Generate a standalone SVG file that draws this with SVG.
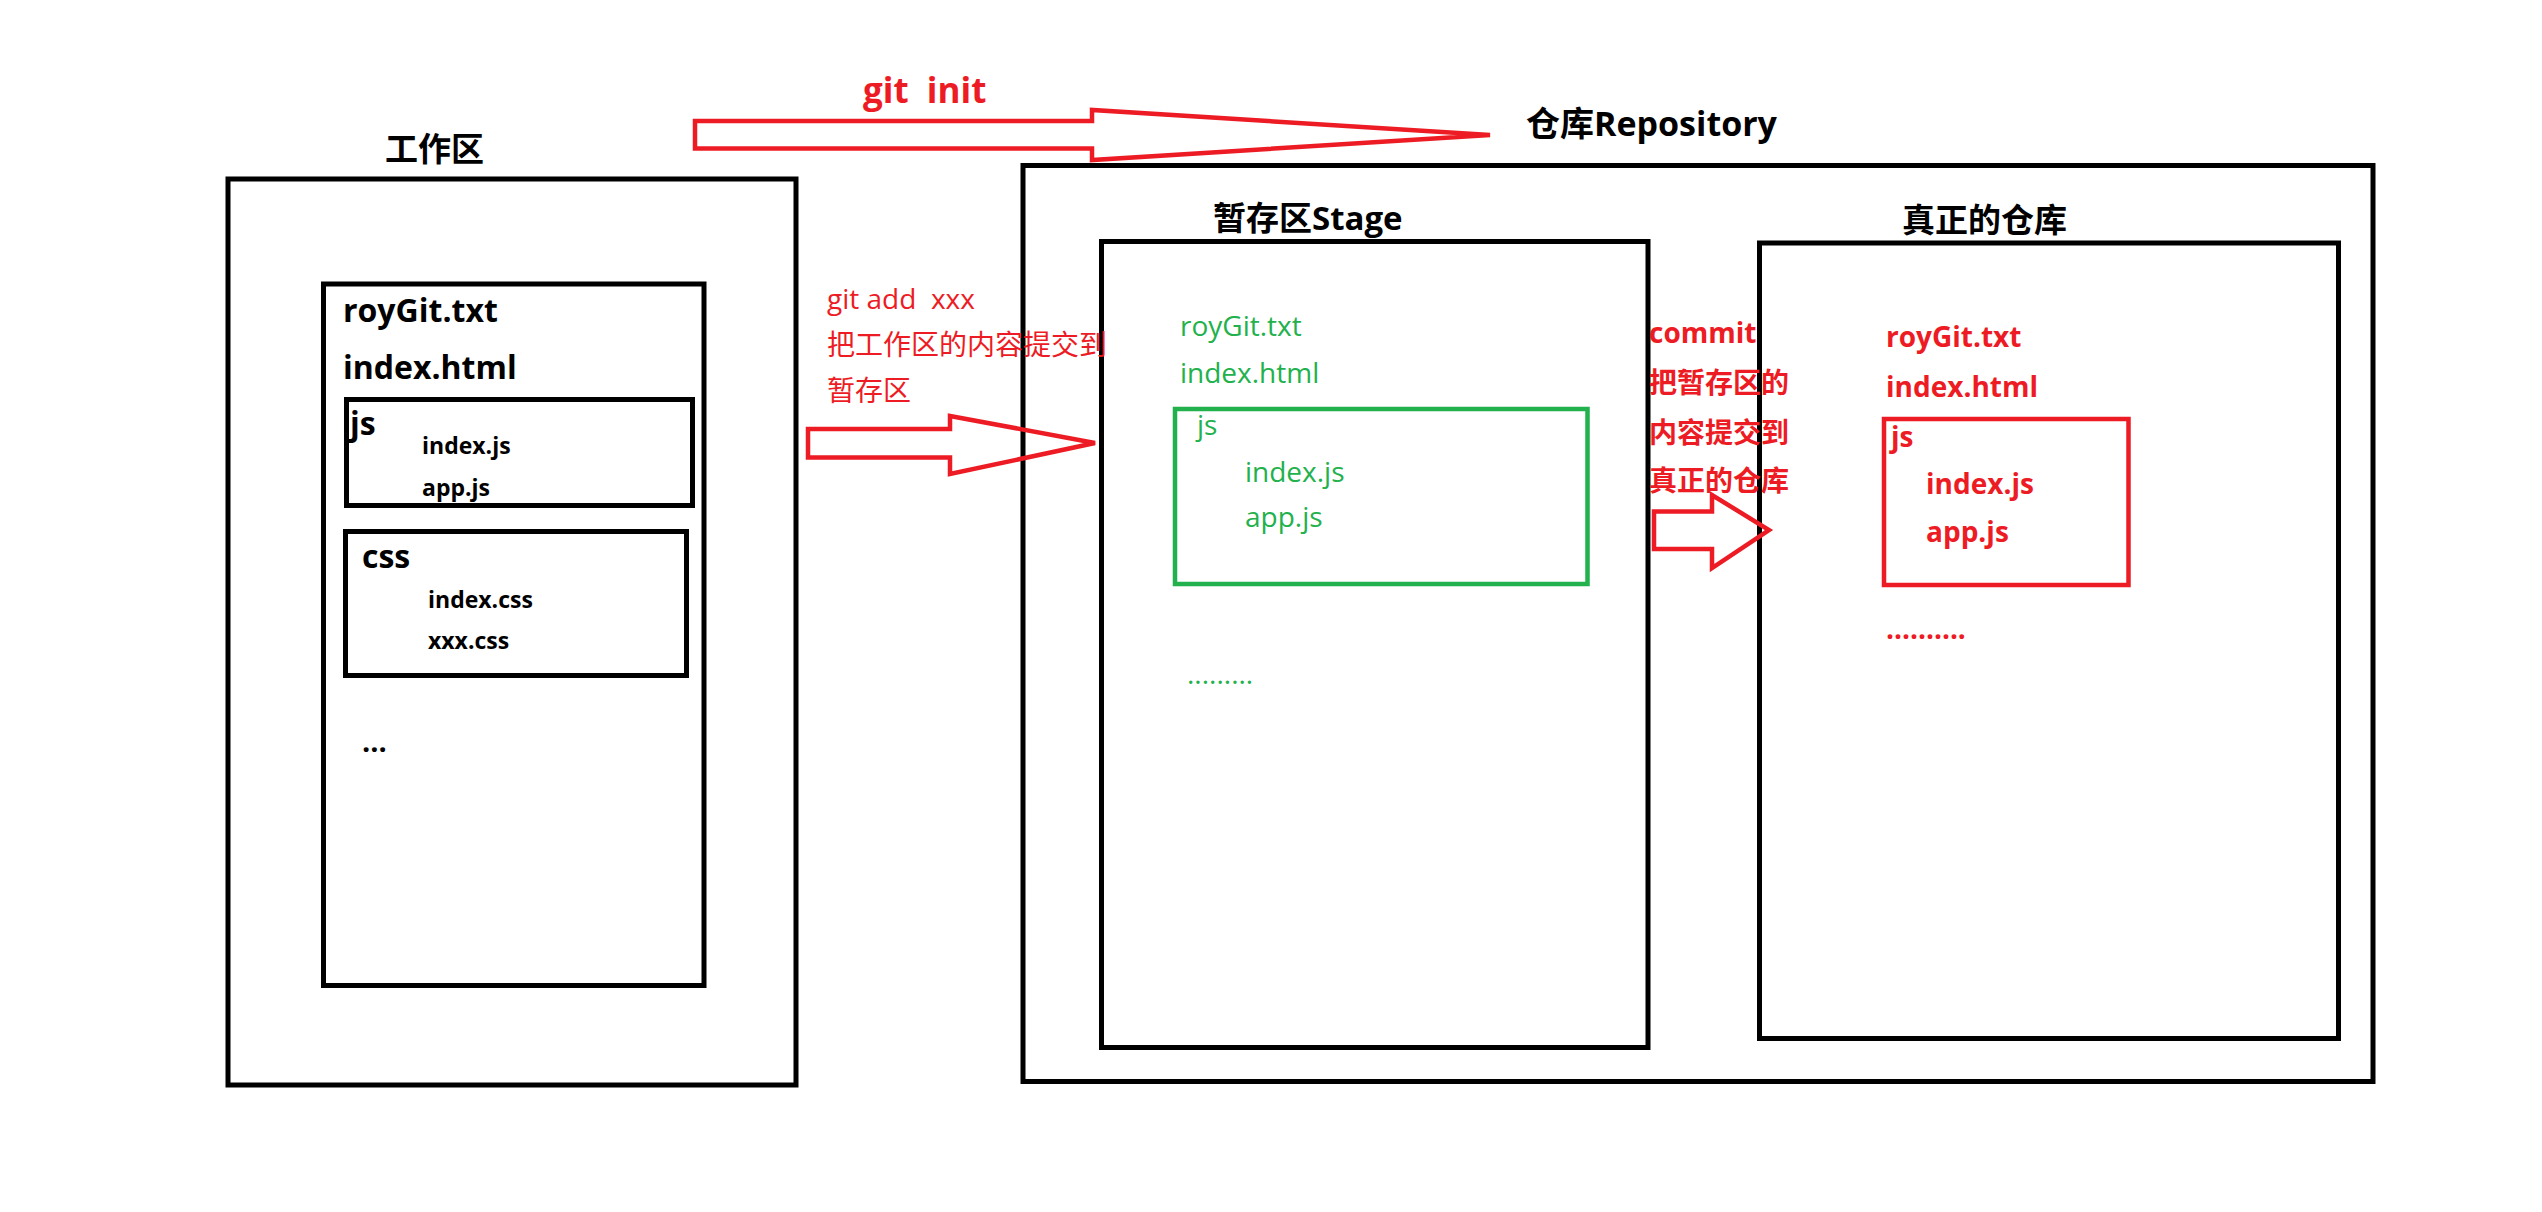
<svg xmlns="http://www.w3.org/2000/svg" width="2542" height="1212" viewBox="0 0 2542 1212">
<style>
.box{fill:none;stroke:#000;stroke-width:5}
.gbox{fill:none;stroke:#22b14c;stroke-width:4.5}
.rbox{fill:none;stroke:#ed1c24;stroke-width:4.5}
.arrow{fill:none;stroke:#ed1c24;stroke-width:4.5;stroke-linejoin:miter}
text{font-family:'Open Sans','Noto Sans CJK SC',sans-serif}
.title{font-size:33px;font-weight:bold;fill:#000}
.bk{font-weight:bold;fill:#000}
.gr{font-size:28px;fill:#22b14c}
.rb{font-size:28px;font-weight:bold;fill:#ed1c24}
.rr{font-size:28px;fill:#ed1c24}
</style>
<rect width="2542" height="1212" fill="#fff"/>

<g id="workspace">
  <rect class="box" x="228" y="179" width="568" height="906"/>
  <text class="title" x="385" y="161">工作区</text>
  <rect class="box" x="323.5" y="284" width="380.5" height="701.5"/>
  <text class="bk" x="343" y="322" font-size="32">royGit.txt</text>
  <text class="bk" x="343" y="379" font-size="32">index.html</text>
  <rect class="box" x="346.5" y="399.5" width="346" height="106"/>
  <text class="bk" x="350" y="435" font-size="32">js</text>
  <text class="bk" x="422" y="454" font-size="23">index.js</text>
  <text class="bk" x="422" y="496" font-size="23">app.js</text>
  <rect class="box" x="345.5" y="531.5" width="341" height="144"/>
  <text class="bk" x="362" y="568" font-size="32">css</text>
  <text class="bk" x="428" y="608" font-size="23">index.css</text>
  <text class="bk" x="428" y="649" font-size="23">xxx.css</text>
  <text class="bk" x="362" y="752" font-size="29">...</text>
</g>

<g id="repository">
  <rect class="box" x="1023" y="165.5" width="1350" height="916"/>
  <text class="bk" x="1526" y="136" font-size="34">仓库Repository</text>
</g>

<g id="stage">
  <rect class="box" x="1101.5" y="241.5" width="546.5" height="806"/>
  <text class="title" x="1213" y="230">暂存区Stage</text>
  <text class="gr" x="1180" y="336">royGit.txt</text>
  <text class="gr" x="1180" y="383">index.html</text>
  <rect class="gbox" x="1175" y="409" width="412.5" height="175"/>
  <text class="gr" x="1197" y="435">js</text>
  <text class="gr" x="1245" y="482">index.js</text>
  <text class="gr" x="1245" y="527">app.js</text>
  <text class="gr" x="1187" y="684">.........</text>
</g>

<g id="real-repo">
  <rect class="box" x="1759.5" y="243" width="579" height="795.5"/>
  <text class="title" x="1902" y="232">真正的仓库</text>
  <text class="rb" x="1886" y="347">royGit.txt</text>
  <text class="rb" x="1886" y="397">index.html</text>
  <rect class="rbox" x="1884" y="419" width="244.5" height="166"/>
  <text class="rb" x="1891" y="447">js</text>
  <text class="rb" x="1926" y="494">index.js</text>
  <text class="rb" x="1926" y="542">app.js</text>
  <text class="rb" x="1886" y="639">..........</text>
</g>

<g id="label-git-init">
  <text class="rb" x="863" y="103" font-size="35" style="font-size:35px" xml:space="preserve">git  init</text>
</g>

<g id="label-git-add">
  <text class="rr" x="827" y="309" xml:space="preserve">git add  xxx</text>
  <text class="rr" x="827" y="355">把工作区的内容提交到</text>
  <text class="rr" x="827" y="401">暂存区</text>
</g>

<g id="label-commit">
  <text class="rb" x="1649" y="343">commit</text>
  <text class="rb" x="1649" y="393">把暂存区的</text>
  <text class="rb" x="1649" y="443">内容提交到</text>
  <text class="rb" x="1649" y="491">真正的仓库</text>
</g>

<g id="connectors">
  <polygon class="arrow" points="695,121 1092,121 1092,110 1490,135 1092,160 1092,148.5 695,148.5"/>
  <polygon class="arrow" points="808,429 950,429 950,416 1095,443 950,474 950,457.5 808,457.5"/>
  <polygon class="arrow" points="1654,511.5 1712,511.5 1712,495 1769,530 1712,568 1712,549 1654,549"/>
</g>
</svg>
